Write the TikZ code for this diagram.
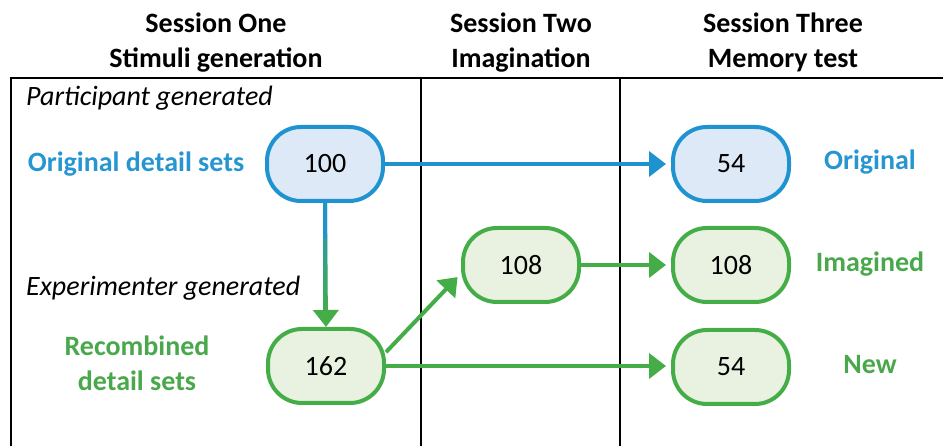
\documentclass[tikz,border=0pt]{standalone}
\usepackage{fontspec}
\setmainfont{Carlito}
\usetikzlibrary{arrows.meta,calc}

\definecolor{origline}{HTML}{1E93D0}
\definecolor{origfill}{HTML}{DDE9F6}
\definecolor{newline}{HTML}{45AD48}
\definecolor{newfill}{HTML}{E9F2E1}
\definecolor{origtext}{HTML}{2795D1}
\definecolor{newtext}{HTML}{4AA84C}

\newcommand{\labelsize}{\fontsize{28}{35}\selectfont}

\tikzset{
  frame/.style={line width=2pt, black},
  countbox/.style={rectangle, rounded corners=34pt, minimum width=116pt,
    minimum height=74pt, line width=4pt, inner sep=0pt, font=\labelsize},
  origbox/.style={countbox, draw=origline, fill=origfill},
  newbox/.style={countbox, draw=newline, fill=newfill},
  header/.style={align=center, font=\labelsize\bfseries, inner sep=0pt},
  origarrow/.style={line width=4pt, origline, -{Triangle[length=17pt, width=25pt]}},
  newarrow/.style={line width=4pt, newline, -{Triangle[length=17pt, width=25pt]}},
  sidelabel/.style={font=\labelsize\bfseries, inner sep=0pt, align=center},
  source/.style={font=\labelsize\itshape, inner sep=0pt, anchor=base west},
}

\begin{document}
\begin{tikzpicture}[x=1pt, y=-1pt]
\useasboundingbox (0,0) rectangle (943,446);

% session columns
\draw[frame] (11,446) -- (11,78) -- (943,78);
\draw[frame] (421,78) -- (421,446);
\draw[frame] (620,78) -- (620,446);

% column headings
\node[header, anchor=base] (h1) at (216,68) {Session One\\Stimuli generation};
\node[header, anchor=base] (h2) at (521,68) {Session Two\\Imagination};
\node[header, anchor=base] (h3) at (783,68) {Session Three\\Memory test};

% source of the detail sets
\node[source] (pg) at (26,106) {Participant generated};
\node[source] (eg) at (26,296) {Experimenter generated};

% counts
\node[origbox] (o100) at (325,164) {100};
\node[newbox]  (r162) at (326,366) {162};
\node[newbox]  (i108) at (521,265) {108};
\node[origbox] (t54)  at (731,164) {54};
\node[newbox]  (t108) at (731,265) {108};
\node[newbox]  (n54)  at (731,367) {54};

% labels
\node[sidelabel, text=origtext] (lo) at (136,164) {Original detail sets};
\node[sidelabel, text=newtext] (lr) at (137,363) {Recombined\\detail sets};
\node[sidelabel, text=origtext] (ro) at (870,162) {Original};
\node[sidelabel, text=newtext] (ri) at (870,264) {Imagined};
\node[sidelabel, text=newtext] (rn) at (870,365) {New};

% connectors
\draw[origarrow, shorten >=5pt] (o100.east) -- (o100.east -| t54.west);
\draw[newarrow] (o100.south) -- (r162.north);
\shade[top color=origline, bottom color=newline]
  ($(o100.south)+(-2,0)$) rectangle ($(o100.south)+(2,112)$);
\fill[origline] ($(o100.south)+(-2,0)$) rectangle ($(o100.south)+(2,35)$);
\draw[newarrow, shorten >=5pt] (r162.13) -- (i108.188);
\draw[newarrow, shorten >=5pt] (i108.east) -- (i108.east -| t108.west);
\draw[newarrow, shorten >=5pt] (r162.east) -- (r162.east -| n54.west);
\end{tikzpicture}
\end{document}
